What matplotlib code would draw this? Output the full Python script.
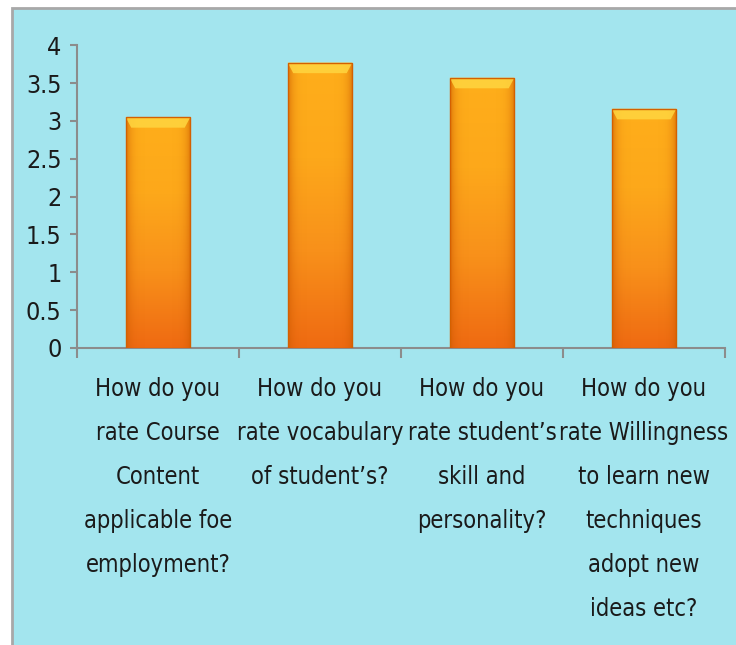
import numpy as np
import matplotlib
matplotlib.use("Agg")
from matplotlib import pyplot as plt
from matplotlib import font_manager
from matplotlib.patches import Rectangle, Polygon

categories = [
    "How do you\nrate Course\nContent\napplicable foe\nemployment?",
    "How do you\nrate vocabulary\nof student\u2019s?",
    "How do you\nrate student\u2019s\nskill and\npersonality?",
    "How do you\nrate Willingness\nto learn new\ntechniques\nadopt new\nideas etc?",
]
values = [3.05, 3.77, 3.57, 3.16]
yticks = [0, 0.5, 1, 1.5, 2, 2.5, 3, 3.5, 4]
ytick_labels = ["0", "0.5", "1", "1.5", "2", "2.5", "3", "3.5", "4"]

bg = "#a3e5ee"
names = {f.name for f in font_manager.fontManager.ttflist}
font = "Liberation Sans Narrow" if "Liberation Sans Narrow" in names else "DejaVu Sans"
plt.rcParams["font.family"] = [font, "DejaVu Sans"]
plt.rcParams["font.stretch"] = "condensed"

fig = plt.figure(figsize=(7.36, 6.45), dpi=100)
fig.patch.set_facecolor("white")
# cyan panel behind the chart
panel = Rectangle((0.0163, -0.01), 1.0, 0.9976, transform=fig.transFigure,
                  facecolor=bg, edgecolor="#a8a8a8", linewidth=2, zorder=-5)
fig.add_artist(panel)

ax = fig.add_axes([0.1046, 0.4605, 0.8804, 0.4695])
ax.set_facecolor("none")

x = np.arange(len(values))
bars = ax.bar(x, values, width=0.4, color="#f89a18", edgecolor="none", zorder=2)

# vertical orange gradient clipped to each bar
grad = np.linspace(0, 1, 256).reshape(-1, 1)
cmap = matplotlib.colors.LinearSegmentedColormap.from_list(
    "og", ["#ef6a12", "#f8901a", "#fda81a", "#ffae1a"])
# darker shading towards the left/right edges
side = np.abs(np.linspace(-1, 1, 64)).reshape(1, -1) ** 6
side_rgba = np.zeros((1, 64, 4))
side_rgba[..., 0] = 0.80
side_rgba[..., 1] = 0.35
side_rgba[..., 3] = side * 0.6
for b, v in zip(bars, values):
    x0 = b.get_x()
    w = b.get_width()
    im = ax.imshow(grad, extent=[x0, x0 + w, 0, v], origin="lower", aspect="auto",
                   cmap=cmap, zorder=3)
    im.set_clip_path(b)
    sh = ax.imshow(side_rgba, extent=[x0, x0 + w, 0, v], aspect="auto", zorder=3.5)
    sh.set_clip_path(b)
    # top bevel highlight
    d = 0.035
    ax.add_patch(Polygon([(x0, v), (x0 + w, v), (x0 + w - d, v - 0.14), (x0 + d, v - 0.14)],
                         closed=True, facecolor="#ffd640", edgecolor="none", alpha=0.85, zorder=4))
    ax.add_patch(Rectangle((x0, 0), w, v, facecolor="none", edgecolor="#d46000",
                           linewidth=1.0, zorder=5))

ax.set_xlim(-0.5, len(values) - 0.5)
ax.set_ylim(0, 4)
ax.set_yticks(yticks)
ax.set_yticklabels(ytick_labels)
ax.set_xticks(x)
ax.set_xticklabels(categories, linespacing=2.05)
ax.set_xticks(np.arange(-0.5, len(values)), minor=True)

for s in ["top", "right"]:
    ax.spines[s].set_visible(False)
for s in ["left", "bottom"]:
    ax.spines[s].set_color("#8c8c8c")
    ax.spines[s].set_linewidth(1.5)

fs = 21 if font == "Liberation Sans Narrow" else 17
ax.tick_params(axis="y", length=5, width=1.5, color="#8c8c8c", labelsize=fs + 1, pad=6)
ax.tick_params(axis="x", which="major", length=0, labelsize=fs, pad=21)
ax.tick_params(axis="x", which="minor", length=7, width=1.5, color="#8c8c8c")
for t in ax.get_xticklabels() + ax.get_yticklabels():
    t.set_color("#1a1a1a")

fig.savefig("out.png", dpi=100, facecolor="white")
